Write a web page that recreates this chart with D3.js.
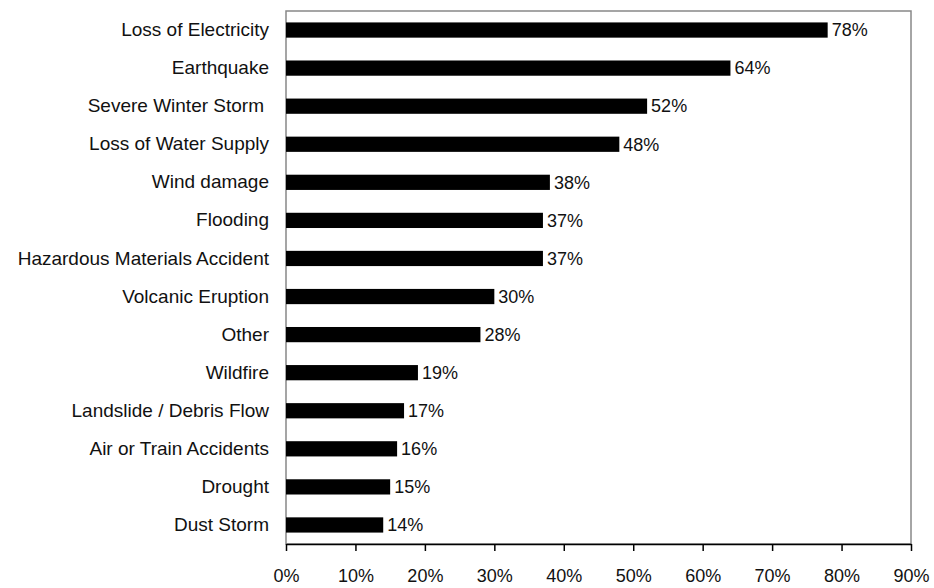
<!DOCTYPE html>
<html>
<head>
<meta charset="utf-8">
<script src="https://cdn.jsdelivr.net/npm/d3@7"></script>
<style>
  body { margin: 0; background: #fff; }
  svg { font-family: "Liberation Sans", Arial, sans-serif; }
</style>
</head>
<body>
<svg id="chart" width="934" height="588"></svg>
<script>
const categories = ['Loss of Electricity', 'Earthquake', 'Severe Winter Storm ', 'Loss of Water Supply',
    'Wind damage', 'Flooding', 'Hazardous Materials Accident', 'Volcanic Eruption', 'Other',
    'Wildfire', 'Landslide / Debris Flow', 'Air or Train Accidents', 'Drought', 'Dust Storm'];
const values = [78, 64, 52, 48, 38, 37, 37, 30, 28, 19, 17, 16, 15, 14];
const tickValues = [0, 10, 20, 30, 40, 50, 60, 70, 80, 90];

const svg = d3.select('#chart');
const margin = { top: 11, left: 286, right: 23, bottom: 44 };
const width = 934, height = 588;
const innerWidth = width - margin.left - margin.right;
const innerHeight = height - margin.top - margin.bottom;

const data = categories.map((c, i) => ({ name: c, value: values[i] }));

const xScale = d3.scaleLinear().domain([0, 90]).range([0, innerWidth]);
const yScale = d3.scaleBand()
    .domain(categories)
    .range([0, innerHeight])
    .paddingInner(0.6)
    .paddingOuter(0.3);

const g = svg.append('g')
    .attr('transform', 'translate(' + margin.left + ',' + margin.top + ')');

// plot border
g.append('rect')
    .attr('width', innerWidth)
    .attr('height', innerHeight)
    .attr('fill', 'none')
    .attr('stroke', '#888')
    .attr('stroke-width', 1.5);

g.selectAll('rect.bar')
    .data(data)
    .enter()
    .append('rect')
    .attr('class', 'bar')
    .attr('x', 0)
    .attr('y', d => yScale(d.name))
    .attr('height', yScale.bandwidth())
    .attr('width', d => xScale(d.value))
    .attr('fill', '#000');

g.selectAll('text.val')
    .data(data)
    .enter()
    .append('text')
    .attr('class', 'val')
    .attr('x', d => xScale(d.value) + 4)
    .attr('y', d => yScale(d.name) + yScale.bandwidth() / 2)
    .attr('dy', '0.35em')
    .attr('font-size', 18)
    .attr('fill', '#111')
    .text(d => d.value + '%');

// category labels (trailing space on one label kept by shifting it)
const yAxis = d3.axisLeft(yScale).tickSize(0).tickPadding(17)
    .tickFormat(d => d.trim());
const yG = g.append('g').call(yAxis);
yG.select('.domain').remove();
yG.selectAll('text')
    .attr('font-size', 19)
    .attr('font-family', '"Liberation Sans", Arial, sans-serif')
    .attr('fill', '#111')
    .attr('dx', d => d.endsWith(' ') ? -5 : 0);

const xAxis = d3.axisBottom(xScale)
    .tickValues(tickValues)
    .tickFormat(d => d + '%')
    .tickSize(7)
    .tickSizeOuter(0)
    .tickPadding(18);
const xG = g.append('g')
    .attr('transform', 'translate(0,' + innerHeight + ')')
    .call(xAxis);
xG.select('.domain').attr('stroke', '#000').attr('stroke-width', 1.5);
xG.selectAll('.tick line').attr('stroke', '#000').attr('stroke-width', 1.5);
xG.selectAll('text')
    .attr('font-size', 18)
    .attr('font-family', '"Liberation Sans", Arial, sans-serif')
    .attr('fill', '#111');
</script>
</body>
</html>
